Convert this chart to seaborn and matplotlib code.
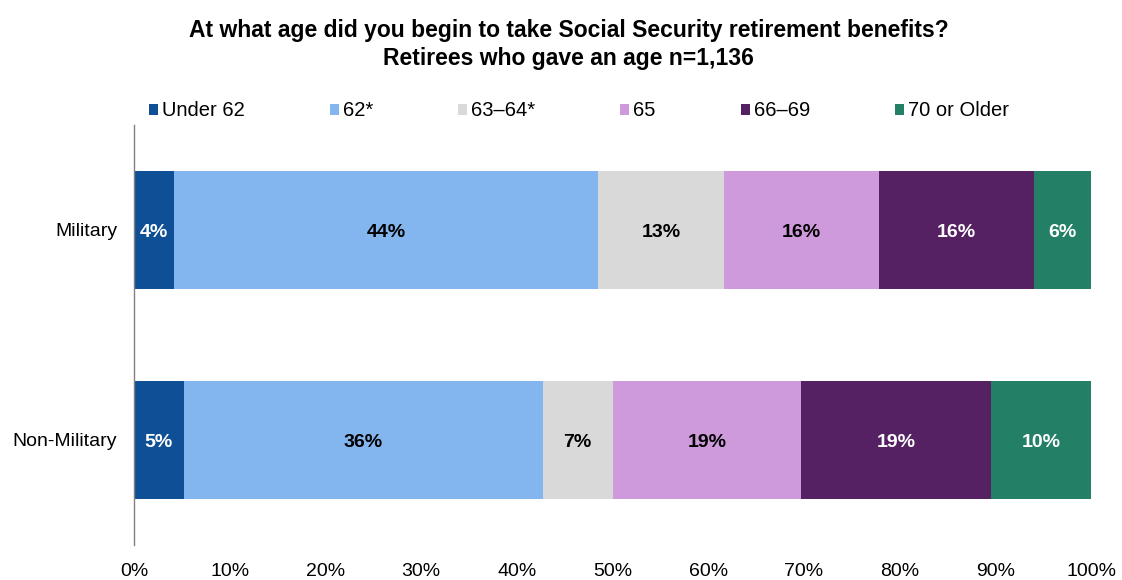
import pandas as pd
import matplotlib.pyplot as plt
import seaborn as sns
from matplotlib.patches import Patch

# data (segment widths, % of retirees)
groups = ["Military", "Non-Military"]
age_bands = ["Under 62", "62*", "63\u201364*", "65", "66\u201369", "70 or Older"]
military = [4.2, 44.3, 13.1, 16.2, 16.2, 6.0]
non_military = [5.2, 37.5, 7.3, 19.7, 19.9, 10.4]
# labels as printed on the bars
military_labels = ["4%", "44%", "13%", "16%", "16%", "6%"]
non_military_labels = ["5%", "36%", "7%", "19%", "19%", "10%"]

colors = ["#0F4F96", "#83B6EF", "#D9D9D9", "#CE9ADC", "#562163", "#237F66"]
text_colors = ["white", "black", "black", "black", "white", "white"]

sns.set_style("white")
plt.rcParams["font.family"] = ["Liberation Sans", "DejaVu Sans"]
plt.rcParams["text.color"] = "black"
plt.rcParams["xtick.color"] = "black"
plt.rcParams["ytick.color"] = "black"

# long table, with cumulative ends so seaborn can stack by overdrawing
rows = []
for grp, vals, labs in [(groups[0], military, military_labels),
                        (groups[1], non_military, non_military_labels)]:
    end = 0
    for band, v, lab in zip(age_bands, vals, labs):
        start = end
        end = end + v
        rows.append({"group": grp, "band": band, "value": v,
                     "start": start, "end": end, "label": lab})
df = pd.DataFrame(rows)

fig = plt.figure(figsize=(11.22, 5.8), dpi=100)
ax = fig.add_axes([134 / 1122, 1 - 545 / 580, (1091 - 134) / 1122, 420 / 580])

# draw from the last band back to the first so each overlaps the next
for i in range(len(age_bands) - 1, -1, -1):
    sub = df[df["band"] == age_bands[i]]
    sns.barplot(data=sub, x="end", y="group", order=groups, color=colors[i],
                width=0.56, ax=ax, saturation=1, edgecolor="none", errorbar=None)

for _, r in df.iterrows():
    k = age_bands.index(r["band"])
    ax.text(r["start"] + r["value"] / 2, groups.index(r["group"]) + 0.012, r["label"],
            ha="center", va="center", fontsize=14, fontweight="bold",
            color=text_colors[k])

ax.set_xlim(0, 100)
ax.set_ylim(1.5, -0.5)
ax.set_xticks(range(0, 101, 10))
ax.set_xticklabels([f"{t}%" for t in range(0, 101, 10)], fontsize=14)
ax.tick_params(axis="y", labelsize=14, length=0, pad=12)
ax.tick_params(axis="x", length=0, pad=13)
ax.set_xlabel("")
ax.set_ylabel("")
for s in ["top", "right", "bottom"]:
    ax.spines[s].set_visible(False)
ax.spines["left"].set_color("#808080")
ax.spines["left"].set_linewidth(1)

handles = [Patch(facecolor=c, edgecolor="none") for c in colors]
fig.legend(handles, age_bands, loc="center left", bbox_to_anchor=(149 / 1122, 1 - 111 / 580),
           ncol=6, frameon=False, fontsize=14.5, handlelength=0.45, handleheight=0.45,
           handletextpad=0.2, columnspacing=4.22, borderpad=0, borderaxespad=0)

fig.text(0.507, 1 - 30 / 580, "At what age did you begin to take Social Security retirement benefits?",
         ha="center", va="center", fontsize=16.5, fontweight="bold")
fig.text(0.507, 1 - 58 / 580, "Retirees who gave an age n=1,136",
         ha="center", va="center", fontsize=16.5, fontweight="bold")

fig.savefig("out.png", dpi=100)
